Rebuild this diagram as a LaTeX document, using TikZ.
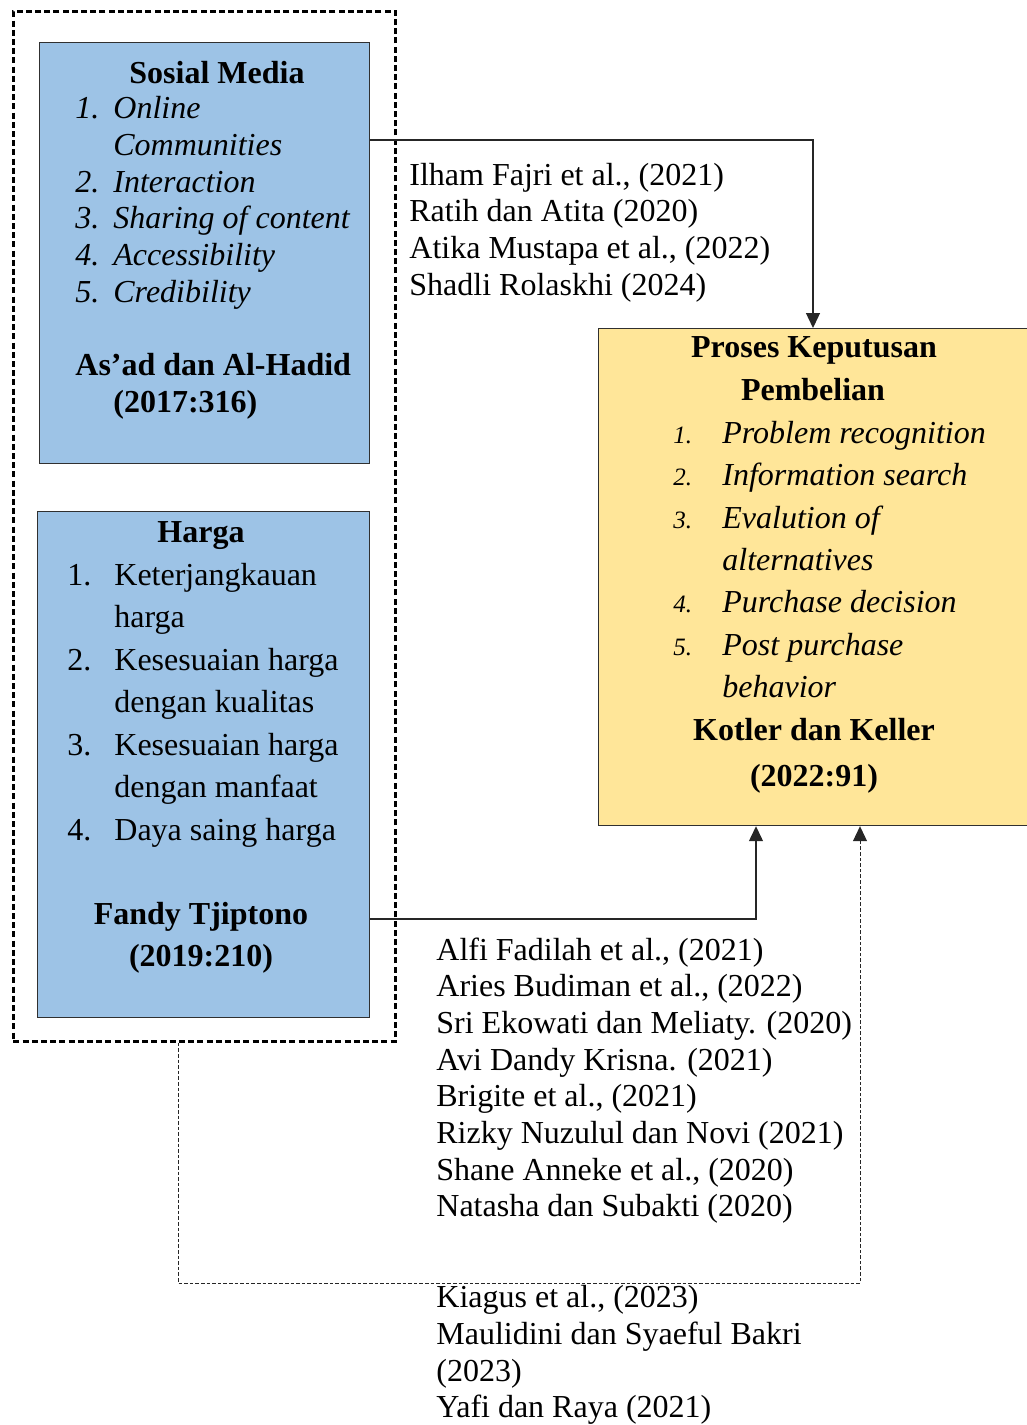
\documentclass[tikz,border=0pt]{standalone}
\usepackage{fontspec}
\setmainfont{Liberation Serif}
\usetikzlibrary{arrows.meta}
\definecolor{boxblue}{HTML}{9DC3E6}
\definecolor{boxyellow}{HTML}{FFE699}
\definecolor{edgegray}{HTML}{303030}
\tikzset{
  bluebox/.style={draw=edgegray, line width=0.6pt, fill=boxblue, anchor=north west, inner sep=0pt},
  yellowbox/.style={draw=edgegray, line width=0.6pt, fill=boxyellow, anchor=north west, inner sep=0pt},
  groupbox/.style={draw=black, line width=1.4pt, dash pattern=on 3pt off 1.6pt, anchor=north west, inner sep=0pt},
  conn/.style={draw=black!85, line width=0.65pt, -{Triangle[width=7pt,length=7.5pt]}},
  dconn/.style={draw=black!85, line width=0.5pt, dash pattern=on 1.8pt off 1pt, -{Triangle[width=7pt,length=7.5pt]}},
  txt/.style={anchor=base west, inner sep=0pt, font=\fontsize{16}{19}\selectfont},
  ctxt/.style={anchor=base, inner sep=0pt, font=\fontsize{16}{19}\selectfont\bfseries},
  itxt/.style={anchor=base west, inner sep=0pt, font=\fontsize{16}{19}\selectfont\itshape},
  snum/.style={anchor=base west, inner sep=0pt, font=\fontsize{12.5}{15}\selectfont\itshape},
  btxt/.style={anchor=base west, inner sep=0pt, font=\fontsize{16}{19}\selectfont\bfseries},
}
\begin{document}
\begin{tikzpicture}[x=0.5pt,y=-0.5pt]
\useasboundingbox (0,0) rectangle (1027,1425);
\clip (0,0) rectangle (1027,1425);

% boxes
\node[groupbox, minimum width=191pt, minimum height=515pt] (grp) at (12,10) {};
\node[bluebox, minimum width=165pt, minimum height=210.5pt] (sm) at (39,42) {};
\node[bluebox, minimum width=166pt, minimum height=253pt] (hg) at (37,511) {};
\node[yellowbox, minimum width=225pt, minimum height=248.5pt] (pk) at (598,328) {};

% Sosial Media text
\node[ctxt] (smt) at (217,83) {Sosial Media};
\node[itxt] (sm1n) at (75,118) {1.};
\node[itxt] (sm1) at (113,118) {Online};
\node[itxt] (sm1b) at (113,155) {Communities};
\node[itxt] (sm2n) at (75,192) {2.};
\node[itxt] (sm2) at (113,192) {Interaction};
\node[itxt] (sm3n) at (75,228) {3.};
\node[itxt] (sm3) at (113,228) {Sharing of content};
\node[itxt] (sm4n) at (75,265) {4.};
\node[itxt] (sm4) at (113,265) {Accessibility};
\node[itxt] (sm5n) at (75,302) {5.};
\node[itxt] (sm5) at (113,302) {Credibility};
\node[btxt] (sma) at (75,375) {As’ad dan Al-Hadid};
\node[btxt] (smb) at (113,412) {(2017:316)};

% Harga text
\node[ctxt] (hgt) at (201,542) {Harga};
\node[txt] (hg1n) at (67,585) {1.};
\node[txt] (hg1) at (114,585) {Keterjangkauan};
\node[txt] (hg1b) at (114,627.5) {harga};
\node[txt] (hg2n) at (67,670) {2.};
\node[txt] (hg2) at (114,670) {Kesesuaian harga};
\node[txt] (hg2b) at (114,712.5) {dengan kualitas};
\node[txt] (hg3n) at (67,755) {3.};
\node[txt] (hg3) at (114,755) {Kesesuaian harga};
\node[txt] (hg3b) at (114,797.5) {dengan manfaat};
\node[txt] (hg4n) at (67,840) {4.};
\node[txt] (hg4) at (114,840) {Daya saing harga};
\node[ctxt] (hga) at (201,924) {Fandy Tjiptono};
\node[ctxt] (hgb) at (201,966) {(2019:210)};

% Proses Keputusan Pembelian text
\node[ctxt] (pkt) at (814,357) {Proses Keputusan};
\node[ctxt] (pkt2) at (813,400) {Pembelian};
\node[snum] (pk1n) at (673,443) {1.};
\node[itxt] (pk1) at (722,443) {Problem recognition};
\node[snum] (pk2n) at (673,485) {2.};
\node[itxt] (pk2) at (722,485) {Information search};
\node[snum] (pk3n) at (673,528) {3.};
\node[itxt] (pk3) at (722,528) {Evalution of};
\node[itxt] (pk3b) at (722,570) {alternatives};
\node[snum] (pk4n) at (673,612) {4.};
\node[itxt] (pk4) at (722,612) {Purchase decision};
\node[snum] (pk5n) at (673,655) {5.};
\node[itxt] (pk5) at (722,655) {Post purchase};
\node[itxt] (pk5b) at (722,697) {behavior};
\node[ctxt] (pka) at (814,740) {Kotler dan Keller};
\node[ctxt] (pkb) at (814,786) {(2022:91)};

% reference lists
\node[txt] (ra1) at (409,185) {Ilham Fajri et al., (2021)};
\node[txt] (ra2) at (409,221.7) {Ratih dan Atita (2020)};
\node[txt] (ra3) at (409,258.3) {Atika Mustapa et al., (2022)};
\node[txt] (ra4) at (409,295) {Shadli Rolaskhi (2024)};

\node[txt] (rb1) at (436,960) {Alfi Fadilah et al., (2021)};
\node[txt] (rb2) at (436,996.7) {Aries Budiman et al., (2022)};
\node[txt] (rb3) at (436,1033.3) {Sri Ekowati dan Meliaty. (2020)};
\node[txt] (rb4) at (436,1070) {Avi Dandy Krisna. (2021)};
\node[txt] (rb5) at (436,1106.7) {Brigite et al., (2021)};
\node[txt] (rb6) at (436,1143.3) {Rizky Nuzulul dan Novi (2021)};
\node[txt] (rb7) at (436,1180) {Shane Anneke et al., (2020)};
\node[txt] (rb8) at (436,1216.7) {Natasha dan Subakti (2020)};

\node[txt] (rc1) at (436,1307) {Kiagus et al., (2023)};
\node[txt] (rc2) at (436,1344) {Maulidini dan Syaeful Bakri};
\node[txt] (rc3) at (436,1381) {(2023)};
\node[txt] (rc4) at (436,1417) {Yafi dan Raya (2021)};

% connectors
\draw[conn] (sm.east |- {(0,140)}) -| (pk.north -| {(813,0)});
\draw[conn] (hg.east |- {(0,919)}) -| (pk.south -| {(756,0)});
\coordinate (dturn) at (860,1283);
\draw[dconn] (grp.south -| {(178,0)}) |- (dturn) -- (pk.south -| dturn);
\end{tikzpicture}
\end{document}
